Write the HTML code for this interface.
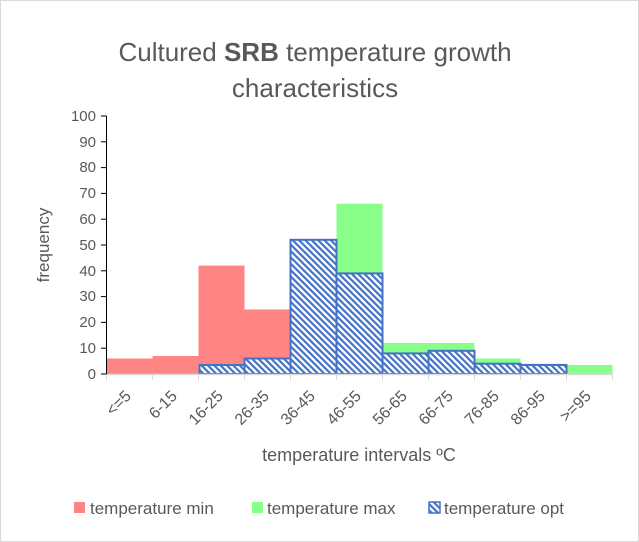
<!DOCTYPE html>
<html><head><style>
body{margin:0;background:#fff;}
svg{display:block;font-family:"Liberation Sans",sans-serif;}
</style></head><body>
<svg width="639" height="542" viewBox="0 0 639 542">
<defs>
<pattern id="h" patternUnits="userSpaceOnUse" width="4.5" height="4.5" patternTransform="rotate(-45)">
<rect width="4.5" height="4.5" fill="#fff"/><rect width="2.2" height="4.5" fill="#4472C4"/>
</pattern>
</defs>
<rect x="0.5" y="0.5" width="638" height="541" fill="#fff" stroke="#d9d9d9"/>
<text x="315" y="61" font-size="26" fill="#595959" text-anchor="middle">Cultured <tspan font-weight="bold">SRB</tspan> temperature growth</text>
<text x="315" y="97" font-size="26" fill="#595959" text-anchor="middle">characteristics</text>
<g font-size="15" fill="#595959" text-anchor="end">
<text x="96" y="379">0</text><text x="96" y="353">10</text><text x="96" y="327">20</text><text x="96" y="301">30</text><text x="96" y="276">40</text><text x="96" y="250">50</text><text x="96" y="224">60</text><text x="96" y="198">70</text><text x="96" y="172">80</text><text x="96" y="147">90</text><text x="96" y="121">100</text>
</g>
<text transform="translate(49,245) rotate(-90)" font-size="17" fill="#595959" text-anchor="middle">frequency</text>
<g fill="#FF8585">
<rect x="106.5" y="358.5" width="46" height="15.5"/>
<rect x="152.5" y="356" width="46" height="18"/>
<rect x="198.5" y="265.6" width="46" height="108.4"/>
<rect x="244.5" y="309.5" width="46" height="64.5"/>
</g>
<g fill="#88FF88">
<rect x="336.5" y="203.7" width="46" height="170.3"/>
<rect x="382.5" y="343" width="46" height="31"/>
<rect x="428.5" y="343" width="46" height="31"/>
<rect x="474.5" y="358.5" width="46" height="15.5"/>
<rect x="520.5" y="363.7" width="46" height="10.3"/>
<rect x="566.5" y="365" width="46" height="9"/>
</g>
<g fill="url(#h)" stroke="#4472C4" stroke-width="2">
<rect x="199.5" y="365" width="45" height="9"/>
<rect x="244.5" y="358.5" width="46" height="15.5"/>
<rect x="290.5" y="239.8" width="46" height="134.2"/>
<rect x="336.5" y="273.4" width="46" height="100.6"/>
<rect x="382.5" y="353.4" width="46" height="20.6"/>
<rect x="428.5" y="350.8" width="46" height="23.2"/>
<rect x="474.5" y="363.7" width="46" height="10.3"/>
<rect x="520.5" y="365" width="46" height="9"/>
</g>
<line x1="106.5" y1="374.5" x2="613" y2="374.5" stroke="#d9d9d9" stroke-width="1.5"/>
<g stroke="#d9d9d9">
<line x1="152.5" y1="374" x2="152.5" y2="380"/><line x1="198.5" y1="374" x2="198.5" y2="380"/><line x1="244.5" y1="374" x2="244.5" y2="380"/><line x1="290.5" y1="374" x2="290.5" y2="380"/><line x1="336.5" y1="374" x2="336.5" y2="380"/><line x1="382.5" y1="374" x2="382.5" y2="380"/><line x1="428.5" y1="374" x2="428.5" y2="380"/><line x1="474.5" y1="374" x2="474.5" y2="380"/><line x1="520.5" y1="374" x2="520.5" y2="380"/><line x1="566.5" y1="374" x2="566.5" y2="380"/><line x1="612.5" y1="374" x2="612.5" y2="380"/><line x1="106.5" y1="374" x2="106.5" y2="380"/>
</g>
<g stroke="#000">
<line x1="106.5" y1="116" x2="106.5" y2="374"/>
<line x1="101" y1="374" x2="106.5" y2="374"/><line x1="101" y1="348.2" x2="106.5" y2="348.2"/><line x1="101" y1="322.4" x2="106.5" y2="322.4"/><line x1="101" y1="296.6" x2="106.5" y2="296.6"/><line x1="101" y1="270.8" x2="106.5" y2="270.8"/><line x1="101" y1="245" x2="106.5" y2="245"/><line x1="101" y1="219.2" x2="106.5" y2="219.2"/><line x1="101" y1="193.4" x2="106.5" y2="193.4"/><line x1="101" y1="167.6" x2="106.5" y2="167.6"/><line x1="101" y1="141.8" x2="106.5" y2="141.8"/><line x1="101" y1="116" x2="106.5" y2="116"/>
</g>
<g font-size="16" fill="#595959" text-anchor="end">
<text transform="translate(132,397) rotate(-45)">&lt;=5</text>
<text transform="translate(178,397) rotate(-45)">6-15</text>
<text transform="translate(224,397) rotate(-45)">16-25</text>
<text transform="translate(270,397) rotate(-45)">26-35</text>
<text transform="translate(316,397) rotate(-45)">36-45</text>
<text transform="translate(362,397) rotate(-45)">46-55</text>
<text transform="translate(408,397) rotate(-45)">56-65</text>
<text transform="translate(454,397) rotate(-45)">66-75</text>
<text transform="translate(500,397) rotate(-45)">76-85</text>
<text transform="translate(546,397) rotate(-45)">86-95</text>
<text transform="translate(592,397) rotate(-45)">&gt;=95</text>
</g>
<text x="359" y="461" font-size="18" fill="#595959" text-anchor="middle">temperature intervals ºC</text>
<g font-size="17" fill="#595959">
<rect x="74" y="502" width="11" height="11" fill="#FF8585"/>
<text x="90" y="514">temperature  min</text>
<rect x="252" y="502" width="11" height="11" fill="#88FF88"/>
<text x="267" y="514">temperature max</text>
<rect x="429" y="502" width="11" height="11" fill="url(#h)" stroke="#4472C4" stroke-width="1.5"/>
<text x="444" y="514">temperature opt</text>
</g>
</svg>
</body></html>
